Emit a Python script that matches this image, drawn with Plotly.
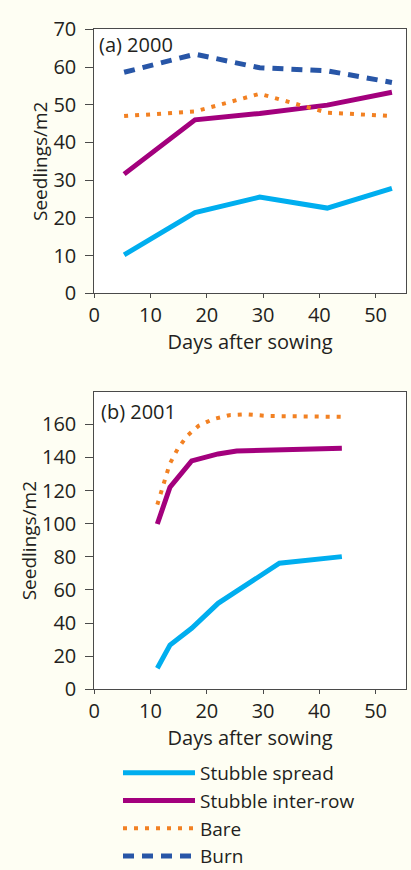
import plotly.graph_objects as go

# ---------------- data ----------------
series_names = ["Stubble spread", "Stubble inter-row", "Bare", "Burn"]

# (a) 2000
a_days = [5.3, 17.9, 29.4, 41.4, 52.9]
a_spread = [10.2, 21.4, 25.5, 22.6, 27.8]
a_interrow = [31.6, 46.0, 47.7, 49.9, 53.3]
a_bare = [47.0, 48.2, 52.9, 47.9, 47.0]
a_burn = [58.6, 63.4, 59.8, 59.0, 55.9]

# (b) 2001
b_spread_days = [11.2, 13.45, 17.3, 22.0, 32.9, 44.0]
b_spread = [12.7, 26.7, 36.8, 51.9, 76.1, 80.1]
b_interrow_days = [11.2, 13.45, 17.3, 22.0, 25.3, 33.0, 44.0]
b_interrow = [99.8, 122.0, 137.9, 142.1, 143.9, 144.5, 145.5]
b_bare_days = [11.2, 12.3, 13.4, 14.8, 16.5, 18.5, 21.0, 24.0, 27.0, 31.0, 44.2]
b_bare = [111.5, 124.0, 136.0, 145.0, 153.0, 159.0, 163.0, 165.5, 166.0, 165.0, 164.5]

x_ticks = [0, 10, 20, 30, 40, 50]
a_y_ticks = [0, 10, 20, 30, 40, 50, 60, 70]
b_y_ticks = [0, 20, 40, 60, 80, 100, 120, 140, 160]

# ---------------- style ----------------
C_SPREAD = "#00AEEF"
C_INTER = "#A3007D"
C_BARE = "#F28123"
C_BURN = "#2856A7"
FONT = "Open Sans"
TXT = "#231F20"
AX = "#4A4A4A"
BG = "#FEFEF3"

styles = {
    "Stubble spread": dict(color=C_SPREAD, width=5, dash="solid"),
    "Stubble inter-row": dict(color=C_INTER, width=5, dash="solid"),
    "Bare": dict(color=C_BARE, width=4, dash="4px,7px"),
    "Burn": dict(color=C_BURN, width=5, dash="11px,8px"),
}

fig = go.Figure()

def add(x, y, name, xa, ya, show):
    fig.add_trace(go.Scatter(
        x=x, y=y, mode="lines", name=name, line=styles[name],
        xaxis=xa, yaxis=ya, showlegend=show, legendrank=series_names.index(name) + 1,
    ))

add(a_days, a_spread, "Stubble spread", "x", "y", True)
add(a_days, a_interrow, "Stubble inter-row", "x", "y", True)
add(a_days, a_bare, "Bare", "x", "y", True)
add(a_days, a_burn, "Burn", "x", "y", True)

add(b_spread_days, b_spread, "Stubble spread", "x2", "y2", False)
add(b_interrow_days, b_interrow, "Stubble inter-row", "x2", "y2", False)
add(b_bare_days, b_bare, "Bare", "x2", "y2", False)

W, H = 411, 870
x_dom = [94.3 / W, 406 / W]
a_dom = [1 - 293.3 / H, 1 - 29.3 / H]
b_dom = [1 - 689.3 / H, 1 - 392 / H]

def xaxis(dom, anchor):
    return dict(
        domain=dom, anchor=anchor, range=[0, 55.4], tickvals=x_ticks,
        ticks="outside", ticklen=4, tickwidth=1, tickcolor=AX,
        showline=True, linecolor=AX, linewidth=1, mirror=True,
        showgrid=False, zeroline=False,
        tickfont=dict(family=FONT, size=20, color=TXT),
        title=dict(text="Days after sowing", font=dict(family=FONT, size=20, color=TXT), standoff=6),
        automargin=False,
    )

def yaxis(dom, anchor, rng, tv):
    return dict(
        domain=dom, anchor=anchor, range=rng, tickvals=tv,
        ticks="outside", ticklen=8, tickwidth=1, tickcolor=AX,
        ticklabelstandoff=5,
        showline=True, linecolor=AX, linewidth=1, mirror=True,
        showgrid=False, zeroline=False,
        tickfont=dict(family=FONT, size=20, color=TXT),
        title=dict(text="Seedlings/m2", font=dict(family=FONT, size=19, color=TXT), standoff=0),
        automargin=False,
    )

fig.update_layout(
    width=W, height=H,
    margin=dict(l=0, r=0, t=0, b=0, autoexpand=False),
    paper_bgcolor=BG, plot_bgcolor="white",
    font=dict(family=FONT, size=20, color=TXT),
    xaxis=xaxis(x_dom, "y"),
    yaxis=yaxis(a_dom, "x", [0, 70], a_y_ticks),
    xaxis2=xaxis(x_dom, "y2"),
    yaxis2=yaxis(b_dom, "x2", [0, 179.5], b_y_ticks),
    legend=dict(
        x=118 / W, y=1 - 754 / H, xanchor="left", yanchor="top",
        bgcolor="rgba(0,0,0,0)", font=dict(family=FONT, size=19, color=TXT),
        tracegroupgap=0, itemwidth=72,
    ),
    annotations=[
        dict(text="(a) 2000", xref="x domain", yref="y domain", x=0.009, y=0.944,
             xanchor="left", yanchor="middle", showarrow=False,
             font=dict(family=FONT, size=20, color=TXT)),
        dict(text="(b) 2001", xref="x2 domain", yref="y2 domain", x=0.015, y=0.934,
             xanchor="left", yanchor="middle", showarrow=False,
             font=dict(family=FONT, size=20, color=TXT)),
    ],
)

fig.write_html(
    "out.html",
    config={"displayModeBar": False},
    post_script="document.body.style.margin='0';document.body.style.padding='0';document.body.style.overflow='hidden';",
)
